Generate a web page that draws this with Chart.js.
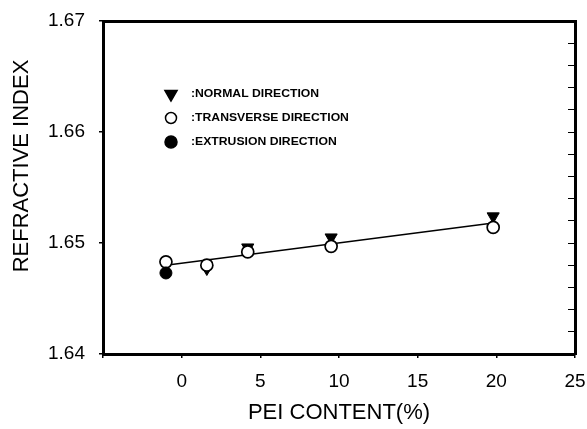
<!DOCTYPE html>
<html>
<head>
<meta charset="utf-8">
<script src="https://cdn.jsdelivr.net/npm/chart.js@4.4.1/dist/chart.umd.min.js"></script>
<style>
  html, body { margin: 0; padding: 0; background: #fff; }
  #wrap { width: 587px; height: 429px; }
</style>
</head>
<body>
<div id="wrap"><canvas id="chart" width="587" height="429"></canvas></div>
<script>
// PEI content (%) vs refractive index, three measuring directions
const normalX = [1.6, 4.2, 9.5, 19.8];
const normalY = [1.6477, 1.6496, 1.6505, 1.6524];
const transverseX = [-1, 1.6, 4.2, 9.5, 19.8];
const transverseY = [1.6483, 1.6480, 1.6492, 1.6497, 1.6514];
const extrusionX = [-1];
const extrusionY = [1.6473];
// linear fit drawn through the data
const fitX = [-1, 19.8];
const fitY = [1.6480, 1.6518];

const xTicks = [-5, 0, 5, 10, 15, 20, 25];
const yTicks = [1.64, 1.65, 1.66, 1.67];
const legendLabels = [':NORMAL DIRECTION', ':TRANSVERSE DIRECTION', ':EXTRUSION DIRECTION'];
const yTitle = 'REFRACTIVE INDEX';

const pts = (xs, ys) => xs.map((x, i) => ({x: x, y: ys[i]}));

Chart.defaults.font.family = "'Liberation Sans', Arial, sans-serif";
Chart.defaults.color = '#000';

const markerStyles = [
    {pointStyle: 'triangle', rotation: 180, radius: 7, fill: '#000'},
    {pointStyle: 'circle', rotation: 0, radius: 5.5, fill: '#fff'},
    {pointStyle: 'circle', rotation: 0, radius: 6, fill: '#000'}
];

// fixed plot box: drop the label overhang paddings the scales ask for
const fixBox = (w, h) => s => {
    if (w !== null) s.width = w;
    if (h !== null) s.height = h;
    s.paddingLeft = 0;
    s.paddingRight = 0;
    s.paddingTop = 0;
    s.paddingBottom = 0;
};

// legend inside the plot area + y axis title (sits above the axis centre)
const innerLegend = {
    id: 'innerLegend',
    afterDatasetsDraw(chart) {
        const ctx = chart.ctx;
        const rows = [94, 118, 142];
        ctx.save();
        markerStyles.forEach((m, i) => {
            ctx.fillStyle = m.fill;
            ctx.strokeStyle = '#000';
            ctx.lineWidth = 1.5;
            Chart.helpers.drawPoint(ctx, {
                pointStyle: m.pointStyle, rotation: m.rotation,
                radius: m.radius, borderWidth: 1.5
            }, 171, rows[i]);
            ctx.save();
            ctx.translate(191, rows[i]);
            ctx.scale(1.22, 1);
            ctx.fillStyle = '#000';
            ctx.font = "bold 10px 'Liberation Sans', Arial, sans-serif";
            ctx.textBaseline = 'middle';
            ctx.fillText(legendLabels[i], 0, 0);
            ctx.restore();
        });

        ctx.save();
        ctx.translate(22, 166);
        ctx.rotate(-Math.PI / 2);
        ctx.fillStyle = '#000';
        ctx.font = "22px 'Liberation Sans', Arial, sans-serif";
        ctx.textAlign = 'center';
        ctx.textBaseline = 'middle';
        ctx.fillText(yTitle, 0, 0);
        ctx.restore();
        ctx.restore();
    }
};

new Chart(document.getElementById('chart'), {
    type: 'scatter',
    data: {
        datasets: [
            {
                label: 'extrusion',
                data: pts(extrusionX, extrusionY),
                pointStyle: 'circle',
                pointRadius: 6,
                backgroundColor: '#000',
                borderColor: '#000',
                order: 0
            },
            {
                label: 'transverse',
                data: pts(transverseX, transverseY),
                pointStyle: 'circle',
                pointRadius: 6,
                borderWidth: 1.7,
                backgroundColor: '#fff',
                borderColor: '#000',
                order: 1
            },
            {
                label: 'normal',
                data: pts(normalX, normalY),
                pointStyle: 'triangle',
                pointRotation: 180,
                pointRadius: 7,
                backgroundColor: '#000',
                borderColor: '#000',
                order: 2
            },
            {
                type: 'line',
                label: 'fit',
                data: pts(fitX, fitY),
                pointRadius: 0,
                borderColor: '#000',
                borderWidth: 1.4,
                fill: false,
                order: 3
            }
        ]
    },
    options: {
        responsive: false,
        animation: false,
        devicePixelRatio: 1,
        layout: { padding: { top: 21, right: 12, left: 0, bottom: 0 } },
        plugins: {
            legend: { display: false },
            tooltip: { enabled: false }
        },
        scales: {
            x: {
                type: 'linear',
                position: 'bottom',
                min: xTicks[0],
                max: xTicks[xTicks.length - 1],
                afterBuildTicks: s => { s.ticks = xTicks.map(v => ({value: v})); },
                afterFit: fixBox(null, 75),
                ticks: {
                    padding: 12,
                    font: { size: 19 },
                    callback: v => (v === -5 ? '' : v)
                },
                grid: { drawOnChartArea: false, tickLength: 4, color: '#000', lineWidth: 1.5 },
                border: { color: '#000', width: 3 },
                title: {
                    display: true,
                    text: 'PEI CONTENT(%)',
                    font: { size: 22 },
                    padding: { top: 0, bottom: 3 }
                }
            },
            y: {
                type: 'linear',
                position: 'left',
                min: yTicks[0],
                max: yTicks[yTicks.length - 1],
                afterBuildTicks: s => { s.ticks = yTicks.map(v => ({value: v})); },
                afterFit: fixBox(103, null),
                ticks: {
                    padding: 14,
                    font: { size: 19 },
                    callback: v => v.toFixed(2)
                },
                grid: { drawOnChartArea: false, tickLength: 4, color: '#000', lineWidth: 1.5 },
                border: { color: '#000', width: 3 }
            },
            x2: {
                type: 'linear',
                position: 'top',
                min: xTicks[0],
                max: xTicks[xTicks.length - 1],
                afterFit: fixBox(null, 0),
                ticks: { display: false },
                grid: { display: false },
                border: { color: '#000', width: 3 }
            },
            y2: {
                type: 'linear',
                position: 'right',
                min: yTicks[0],
                max: yTicks[yTicks.length - 1],
                afterFit: fixBox(0, null),
                ticks: { display: false, stepSize: 0.002 },
                grid: { drawOnChartArea: false, tickLength: -7, color: '#000', lineWidth: 1 },
                border: { color: '#000', width: 3 }
            }
        }
    },
    plugins: [innerLegend]
});
</script>
</body>
</html>
